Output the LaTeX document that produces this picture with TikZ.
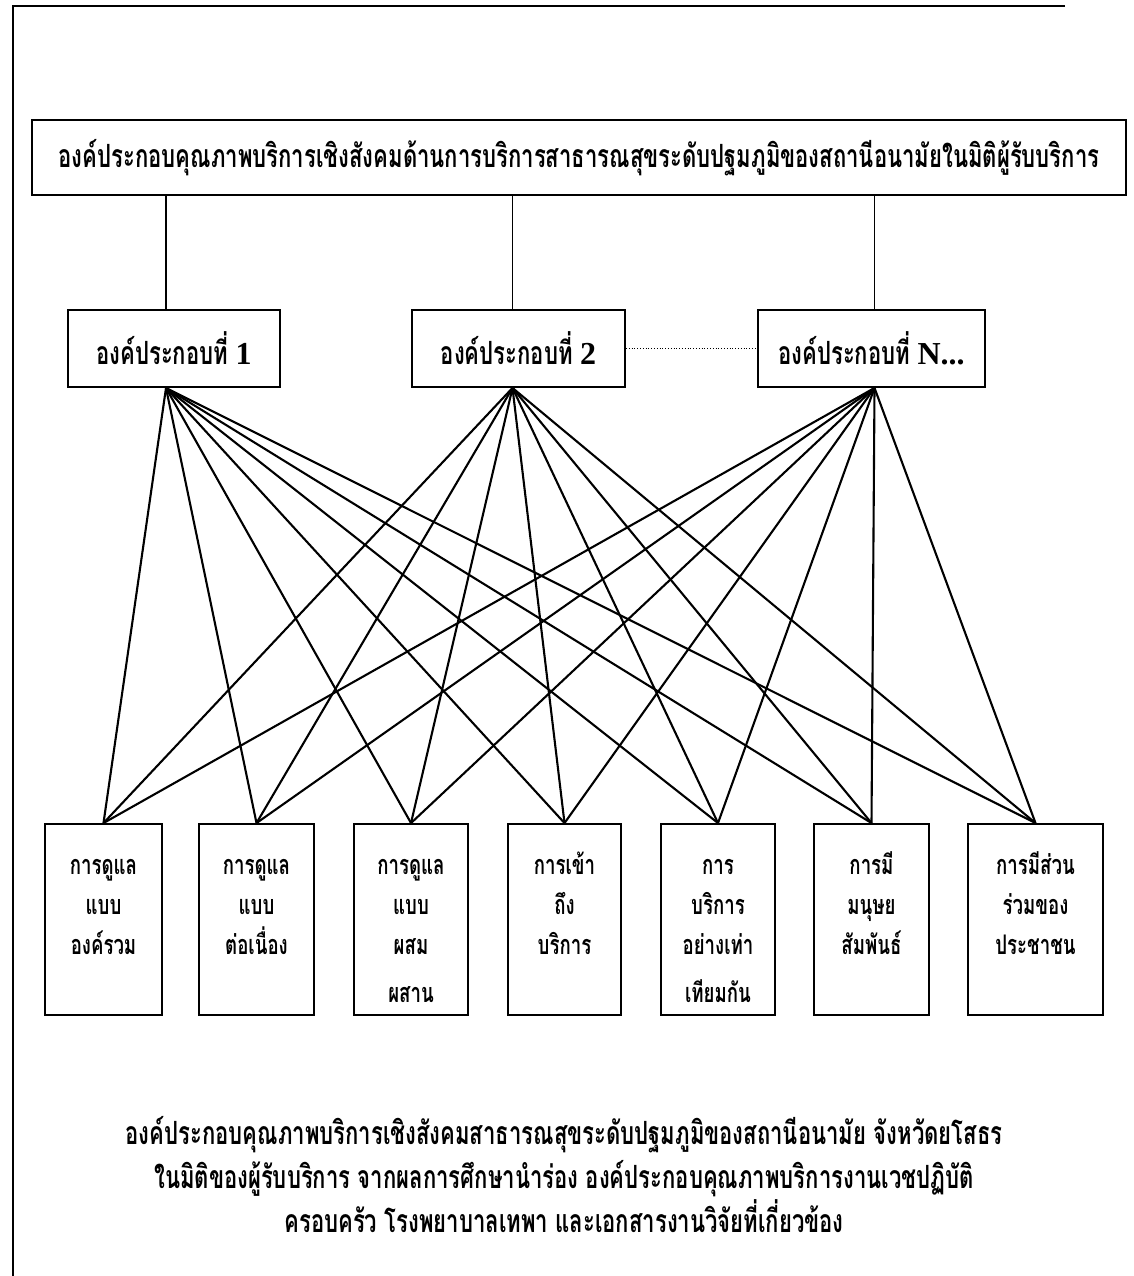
\documentclass[tikz,border=0pt]{standalone}
\usepackage{fontspec}
\newfontfamily\thai[Script=Thai,FakeStretch=0.69]{Loma}
\newfontfamily\latn{Liberation Serif}
\usetikzlibrary{calc}
\begin{document}
\begin{tikzpicture}[x=1pt,y=-1pt,
  box/.style={draw,line width=1.9pt,inner sep=0pt},
  fan/.style={line width=2.1pt},
  link/.style={line width=1.5pt},
  dots/.style={line width=0.8pt,dotted},
  mainfont/.style={font=\thai\bfseries\fontsize{32}{38}\selectfont},
  boxfont/.style={font=\thai\bfseries\fontsize{27}{40}\selectfont},
  frame/.style={line width=2pt}]
\path[fill=white] (0,0) rectangle (1133,1276);
\useasboundingbox (0,0) rectangle (1133,1276);
\draw[frame] (1065,6) -- (13,6) -- (13,1276);

\node[box,mainfont,minimum width=1094pt,minimum height=75pt] (top) at (579,157.5)
  {องค์ประกอบคุณภาพบริการเชิงสังคมด้านการบริการสาธารณสุขระดับปฐมภูมิของสถานีอนามัยในมิติผู้รับบริการ};

\node[box,mainfont,minimum width=212pt,minimum height=77pt] (m1) at (174,348.5)
  {องค์ประกอบที่ {\latn\bfseries 1}};
\node[box,mainfont,minimum width=213pt,minimum height=77pt] (m2) at (518.5,348.5)
  {องค์ประกอบที่ {\latn\bfseries 2}};
\node[box,mainfont,minimum width=227pt,minimum height=77pt] (m3) at (871.5,348.5)
  {องค์ประกอบที่ {\latn\bfseries N...}};

\coordinate (t1) at ([xshift=-8pt]m1.north);
\coordinate (t2) at ([xshift=-6pt]m2.north);
\coordinate (t3) at ([xshift=3pt]m3.north);
\draw[link] (t1) -- (t1 |- top.south);
\draw[link] (t2) -- (t2 |- top.south);
\draw[link] (t3) -- (t3 |- top.south);
\draw[dots] (m2.east) -- (m3.west);

\coordinate (s1) at ([xshift=-8pt]m1.south);
\coordinate (s2) at ([xshift=-6pt]m2.south);
\coordinate (s3) at ([xshift=3pt]m3.south);

\foreach \n/\x/\w/\t in {
  b1/103.5/117/{การดูแล\\แบบ\\องค์รวม},
  b2/256.5/115/{การดูแล\\แบบ\\ต่อเนื่อง},
  b3/411/114/{การดูแล\\แบบ\\ผสม\\[8pt]ผสาน},
  b4/564.5/113/{การเข้า\\ถึง\\บริการ},
  b5/718/114/{การ\\บริการ\\อย่างเท่า\\[8pt]เทียมกัน},
  b6/871.5/115/{การมี\\มนุษย\\สัมพันธ์},
  b7/1035.5/135/{การมีส่วน\\ร่วมของ\\ประชาชน}}{
  \node[box,boxfont] (\n) at (\x,919.5)
    {\parbox[c][191pt][t]{\w pt}{\centering\baselineskip=40pt\rule{0pt}{50pt}\t}};
}

\foreach \s in {s1,s2,s3}{
  \foreach \b in {b1,b2,b3,b4,b5,b6,b7}{
    \draw[fan] (\s) -- (\b.north);
  }
}

\node[align=center,font=\thai\bfseries\fontsize{32}{44}\selectfont] (cap) at (564,1175)
  {องค์ประกอบคุณภาพบริการเชิงสังคมสาธารณสุขระดับปฐมภูมิของสถานีอนามัย จังหวัดยโสธร\\
   ในมิติของผู้รับบริการ จากผลการศึกษานำร่อง องค์ประกอบคุณภาพบริการงานเวชปฏิบัติ\\
   ครอบครัว โรงพยาบาลเทพา และเอกสารงานวิจัยที่เกี่ยวข้อง};
\end{tikzpicture}
\end{document}
